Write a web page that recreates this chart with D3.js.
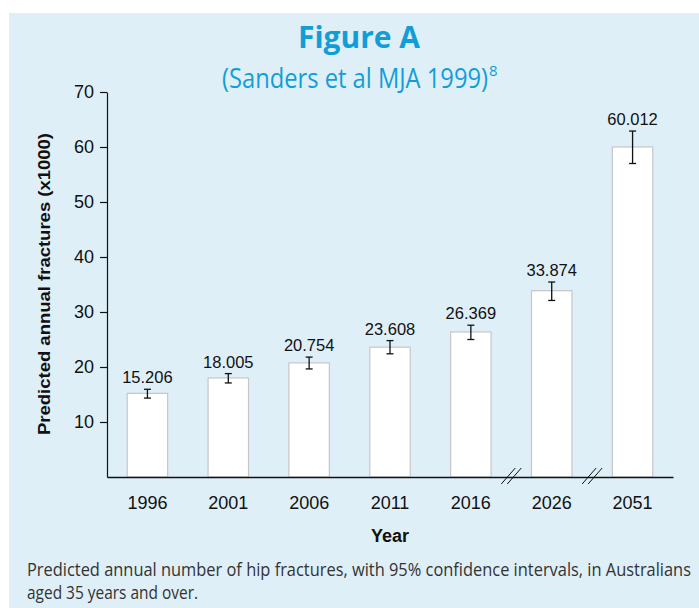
<!DOCTYPE html>
<html>
<head>
<meta charset="utf-8">
<script src="https://cdn.jsdelivr.net/npm/d3@7"></script>
<style>
  body { margin: 0; background: #fff; }
  svg { display: block; }
</style>
</head>
<body>
<div id="vis"></div>
<script>
// data
var years = ["1996", "2001", "2006", "2011", "2016", "2026", "2051"];
var fractures = [15.206, 18.005, 20.754, 23.608, 26.369, 33.874, 60.012];
var ciLow = [14.35, 17.1, 19.65, 22.4, 25.0, 32.1, 57.0];
var ciHigh = [15.95, 18.8, 21.8, 24.8, 27.6, 35.45, 62.9];
var yTicks = [10, 20, 30, 40, 50, 60, 70];
var breaksAfter = ["2016", "2026"];

var W = 699, H = 608;
var svg = d3.select("#vis").append("svg")
  .attr("width", W)
  .attr("height", H);

svg.append("rect")
  .attr("x", 9).attr("y", 13)
  .attr("width", W - 9).attr("height", H - 13)
  .attr("fill", "#dfeff8");

// titles
svg.append("text")
  .attr("x", 359).attr("y", 48)
  .attr("text-anchor", "middle")
  .attr("font-family", "'Open Sans', sans-serif")
  .attr("font-weight", "bold")
  .attr("font-size", 31)
  .attr("fill", "#119ed8")
  .attr("textLength", 122).attr("lengthAdjust", "spacingAndGlyphs")
  .text("Figure A");

var sub = svg.append("text")
  .attr("x", 222).attr("y", 88)
  .attr("font-family", "'Open Sans', sans-serif")
  .attr("font-size", 27)
  .attr("fill", "#119ed8");
sub.append("tspan").attr("textLength", 266).attr("lengthAdjust", "spacingAndGlyphs")
  .text("(Sanders et al MJA 1999)");
sub.append("tspan").attr("font-size", 15).attr("dx", 1).attr("dy", -12).text("8");

var x = d3.scaleBand()
  .domain(years)
  .range([107, 673])
  .paddingInner(0.5)
  .paddingOuter(0.25);

var y = d3.scaleLinear()
  .domain([0, 70])
  .range([477, 92]);

// bars
svg.append("g").selectAll("rect")
  .data(fractures)
  .enter().append("rect")
    .attr("x", function(d, i) { return x(years[i]); })
    .attr("y", function(d) { return y(d); })
    .attr("width", x.bandwidth())
    .attr("height", function(d) { return y(0) - y(d); })
    .attr("fill", "#fff")
    .attr("stroke", "#c6c6c6")
    .attr("stroke-width", 1.2);

// error bars
var err = svg.append("g").attr("stroke", "#111").attr("stroke-width", 1.3);
years.forEach(function(yr, i) {
  var cx = x(yr) + x.bandwidth() / 2;
  err.append("line").attr("x1", cx).attr("x2", cx).attr("y1", y(ciLow[i])).attr("y2", y(ciHigh[i]));
  err.append("line").attr("x1", cx - 3.5).attr("x2", cx + 3.5).attr("y1", y(ciLow[i])).attr("y2", y(ciLow[i]));
  err.append("line").attr("x1", cx - 3.5).attr("x2", cx + 3.5).attr("y1", y(ciHigh[i])).attr("y2", y(ciHigh[i]));
});

// value labels
svg.append("g").selectAll("text")
  .data(fractures)
  .enter().append("text")
    .attr("x", function(d, i) { return x(years[i]) + x.bandwidth() / 2; })
    .attr("y", function(d, i) { return y(ciHigh[i]) - 6; })
    .attr("text-anchor", "middle")
    .attr("font-family", "'Liberation Sans', Arial, sans-serif")
    .attr("font-size", 16.5)
    .attr("fill", "#111")
    .text(function(d) { return d3.format(".3f")(d); });

// y axis
var yAxis = svg.append("g")
  .attr("transform", "translate(107,0)")
  .call(d3.axisLeft(y).tickValues(yTicks).tickSize(7).tickSizeOuter(0).tickPadding(6));
yAxis.selectAll("text")
  .attr("font-family", "'Liberation Sans', Arial, sans-serif")
  .attr("font-size", 18)
  .attr("fill", "#111");
yAxis.selectAll("line, path").attr("stroke", "#111").attr("stroke-width", 1.2);

// x axis
var xAxis = svg.append("g")
  .attr("transform", "translate(0,477)")
  .call(d3.axisBottom(x).tickSize(0).tickPadding(19));
xAxis.select(".domain").attr("stroke", "#111").attr("stroke-width", 1.3);
xAxis.selectAll("text")
  .attr("font-family", "'Liberation Sans', Arial, sans-serif")
  .attr("font-size", 18)
  .attr("fill", "#111");

// axis break marks
var brk = svg.append("g").attr("stroke", "#111").attr("stroke-width", 1);
breaksAfter.forEach(function(yr) {
  var i = years.indexOf(yr);
  var mx = (x(yr) + x.bandwidth() + x(years[i + 1])) / 2;
  [-3, 3].forEach(function(o) {
    brk.append("line")
      .attr("x1", mx + o - 7).attr("y1", y(0) + 7)
      .attr("x2", mx + o + 7).attr("y2", y(0) - 9);
  });
});

// axis titles
svg.append("text")
  .attr("x", 390).attr("y", 542)
  .attr("text-anchor", "middle")
  .attr("font-family", "'Liberation Sans', Arial, sans-serif")
  .attr("font-weight", "bold")
  .attr("font-size", 18)
  .attr("fill", "#111")
  .text("Year");

svg.append("text")
  .attr("transform", "translate(50,284) rotate(-90)")
  .attr("text-anchor", "middle")
  .attr("font-family", "'Liberation Sans', Arial, sans-serif")
  .attr("font-weight", "bold")
  .attr("font-size", 17)
  .attr("fill", "#111")
  .attr("textLength", 302).attr("lengthAdjust", "spacingAndGlyphs")
  .text("Predicted annual fractures (x1000)");

// caption
var caption = ["Predicted annual number of hip fractures, with 95% confidence intervals, in Australians",
               "aged 35 years and over."];
var capLen = [664, 171];
svg.append("g").selectAll("text")
  .data(caption)
  .enter().append("text")
    .attr("x", 27)
    .attr("y", function(d, i) { return 576 + i * 23; })
    .attr("font-family", "'Open Sans', sans-serif")
    .attr("font-size", 18)
    .attr("fill", "#333")
    .attr("textLength", function(d, i) { return capLen[i]; })
    .attr("lengthAdjust", "spacingAndGlyphs")
    .text(function(d) { return d; });
</script>
</body>
</html>
